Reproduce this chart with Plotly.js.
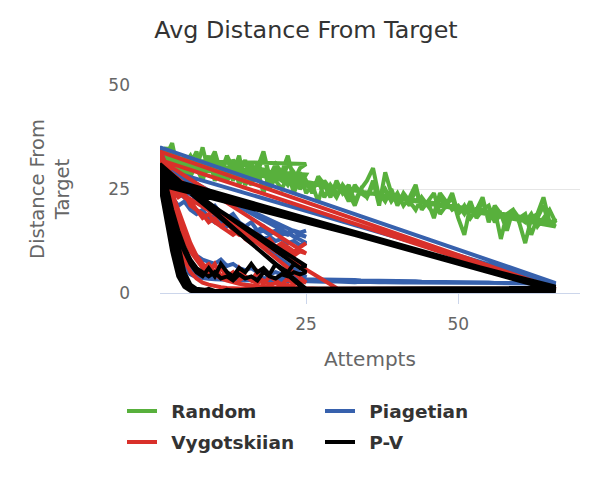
<!DOCTYPE html>
<html>
<head>
<meta charset="utf-8">
<script src="https://cdn.plot.ly/plotly-3.0.1.min.js"></script>
<style>
  html, body { margin: 0; padding: 0; background: #fff; }
  #chart { width: 610px; height: 490px; }
</style>
</head>
<body>
<div id="chart"></div>
<script>
  // each run is one game; the attempt number is the position in the run (1, 2, 3 ...)
  // runs are joined one after another, so a line jumps back to attempt 1 between runs

  // Random
  var random1 = [33, 31, 35, 30, 32, 28, 31, 29, 33, 27,
                 30, 28, 32, 26, 29, 31, 27, 30, 25, 28,
                 27, 29, 24, 28, 26, 25, 27, 23, 26, 24,
                 25, 22, 26, 24, 23, 27, 21, 29, 24, 22,
                 23, 21, 25, 20, 22, 24, 19, 21, 23, 18,
                 14, 21, 19, 22, 18, 20, 13, 19, 20, 17,
                 12, 18, 19, 23, 17, 16];
  var random2 = [33, 30, 34, 31, 28, 32, 30, 35, 29, 31,
                 27, 33, 30, 28, 32, 26, 30, 34, 28, 31,
                 29, 33, 27, 30, 31];
  var random3 = [32, 34, 30, 33, 29, 31, 34, 28, 30, 32,
                 29, 33, 27, 30, 28, 26, 31, 29, 27, 30,
                 28, 26, 29, 25, 27, 24, 28, 26, 23, 27,
                 24, 26, 22, 25, 23, 26, 24, 22, 25, 21,
                 24, 22, 20, 23, 21, 19, 24, 22, 20, 21,
                 19, 22, 18, 20, 21, 17, 19, 16, 20, 18,
                 17, 19, 16, 18, 20, 17];
  var random4 = [32, 35, 31, 29, 33, 30, 32, 28, 31, 34,
                 29, 27, 32, 30, 26, 31, 29, 33, 28, 30,
                 27, 31, 29, 26, 28.5];
  var random5 = [31, 33, 36, 29, 31, 33, 30, 27, 32, 29,
                 31, 27, 29, 33, 26, 28, 30, 24, 29, 27,
                 25, 28, 26, 29, 24, 26, 22, 27, 25, 23,
                 26, 24, 21, 25, 27, 30, 23, 25, 22, 24,
                 21, 23, 26, 20, 22, 18, 23, 21, 24, 19,
                 21, 18, 20, 23, 17, 21, 19, 15, 20, 18,
                 19, 14, 18, 21, 16, 18];

  // Piagetian
  var piaget1 = [32, 25, 17, 10, 6, 4.5, 3.8, 3.5, 3.4, 3.3,
                 3.2, 3.3, 3.1, 3.2, 3.0, 3.1, 3.0, 3.0, 2.9, 3.0,
                 2.9, 2.9, 2.8, 2.9, 2.8, 2.8, 2.8, 2.7, 2.8, 2.7,
                 2.7, 2.7, 2.6, 2.7, 2.6, 2.6, 2.6, 2.6, 2.5, 2.6,
                 2.5, 2.5, 2.5, 2.5, 2.5, 2.4, 2.5, 2.4, 2.4, 2.4,
                 2.4, 2.4, 2.4, 2.3, 2.4, 2.3, 2.3, 2.3, 2.3, 2.3,
                 2.3, 2.3, 2.3, 2.3, 2.3, 2.4];
  var piaget2 = [35, 30, 27, 24, 23, 21, 20, 19, 18, 18.5,
                 17, 16, 16.5, 15, 15.5, 14, 14.5, 13, 13.5, 12.5,
                 13, 12, 12.5, 11.5, 12];
  var piaget3 = [31, 26, 20, 14, 9, 6, 4.8, 4.2, 4.0, 3.9,
                 3.9, 3.8, 3.8, 3.7, 3.7, 3.6, 3.6, 3.6, 3.5, 3.5,
                 3.5, 3.4, 3.4, 3.4, 3.3, 3.3, 3.3, 3.2, 3.2, 3.2,
                 3.1, 3.1, 3.1, 3.0, 3.0, 3.0, 2.9, 2.9, 2.9, 2.8,
                 2.8, 2.8, 2.8, 2.7, 2.7, 2.7, 2.7, 2.6, 2.6, 2.6,
                 2.6, 2.5, 2.5, 2.5, 2.5, 2.4, 2.4, 2.4, 2.4, 2.3,
                 2.3, 2.3, 2.3, 2.2, 2.2, 2.2];
  var piaget4 = [30, 28, 26, 25, 24, 22, 23, 21, 20, 21,
                 19, 18, 19, 17, 16, 17, 15, 16, 14.5, 15,
                 14, 14.5, 13.5, 14, 13.5];
  var piaget5 = [30, 25, 20, 16, 13, 11, 9, 8, 7.5, 7,
                 8, 6.5, 7, 6, 5.5, 6, 5, 5.5, 4.5, 5,
                 4.5, 4, 4.5, 4, 3.8];
  var piaget6 = [29, 26, 23, 21, 22, 20, 19, 20, 18, 17,
                 18, 16, 17, 15.5, 16, 15, 14.5, 15, 14, 15,
                 14.5, 14, 15, 14.5, 15];

  // Vygotskiian
  var vygot1 = [33, 29, 24, 20, 16, 12, 9, 7, 5.5, 4.5,
                3.5, 3, 2.5, 2.2, 2, 1.8, 1.6, 1.5, 1.4, 1.3,
                1.3, 1.2, 1.2, 1.1, 1.1, 1.1, 1.0, 1.0, 1.0, 1.0,
                1.0, 1.0, 0.9, 0.9, 0.9, 0.9, 0.9, 0.9, 0.9, 0.9,
                0.9, 0.9, 0.9, 0.9, 0.9, 0.9, 0.9, 0.9, 0.9, 0.9,
                0.9, 0.9, 0.9, 0.9, 0.9, 0.9, 0.9, 0.9, 0.9, 0.9,
                0.9, 0.9, 0.9, 0.9, 0.9, 1.0];
  var vygot2 = [34, 31, 28, 26, 23, 22, 20, 19, 17, 18,
                16, 15, 14, 15, 13, 12, 13, 11, 12, 10,
                11, 10, 9, 10, 9.5];
  var vygot3 = [32, 27, 22, 17, 13, 10, 8, 6, 7, 5,
                6, 4, 5, 3, 4, 3, 2.5, 3, 2, 2.5,
                1.5, 2, 1, 1.5, 1, 0.8, 1, 0.5, 0.6, 0.4,
                0.3];
  var vygot4 = [27, 22, 17, 12, 8, 5, 3.5, 2.5, 2, 1.6,
                1.4, 1.2, 1.1, 1.0, 0.9, 0.9, 0.8, 0.8, 0.8, 0.7,
                0.7, 0.7, 0.7, 0.7, 0.7, 0.7, 0.7, 0.7, 0.7, 0.7,
                0.7, 0.7, 0.7, 0.7, 0.7, 0.7, 0.7, 0.7, 0.7, 0.7,
                0.7, 0.7, 0.7, 0.7, 0.7, 0.7, 0.7, 0.7, 0.7, 0.7,
                0.7, 0.7, 0.7, 0.7, 0.7, 0.7, 0.7, 0.7, 0.7, 0.7,
                0.7, 0.7, 0.7, 0.8, 0.8, 0.8];
  var vygot5 = [32, 28, 23, 19, 15, 11, 8, 6, 5, 7,
                4, 5, 3, 6, 4, 3, 5, 2, 4, 3,
                2, 3.5, 2, 3, 2.5];
  var vygot6 = [31, 28, 25, 23, 24, 21, 20, 18, 19, 17,
                16, 17, 15, 14, 15, 13, 14, 12, 13, 11,
                12, 11, 10, 11, 12];

  // P-V
  var pv1 = [31, 26, 20, 15, 11, 8, 6, 5, 4, 5,
             3.5, 4, 3, 4.5, 3.5, 4, 3, 5, 4, 3.5,
             4.5, 4, 5, 4.5, 5];
  var pv2 = [30, 22, 14, 7, 3, 1.5, 1, 0.6, 0.5, 0.4,
             0.4, 0.3, 0.3, 0.3, 0.3, 0.3, 0.3, 0.3, 0.3, 0.3,
             0.3, 0.3, 0.3, 0.3, 0.3, 0.3, 0.3, 0.3, 0.3, 0.3,
             0.3, 0.3, 0.3, 0.3, 0.3, 0.3, 0.3, 0.3, 0.3, 0.3,
             0.3, 0.3, 0.3, 0.3, 0.3, 0.3, 0.3, 0.3, 0.3, 0.3,
             0.3, 0.3, 0.3, 0.3, 0.3, 0.3, 0.3, 0.3, 0.3, 0.3,
             0.3, 0.4, 0.5, 0.6, 0.8, 1.0];
  var pv3 = [28, 24, 19, 14, 10, 7, 5, 4, 6, 4,
             7, 5, 4, 6, 5, 7, 5, 6, 4.5, 7,
             6, 5, 7, 6, 6.5];
  var pv4 = [29, 21, 13, 6, 2.5, 1, 0.5, 0.3, 0.2, 0.2,
             0.2, 0.2, 0.2, 0.2, 0.2, 0.2, 0.2, 0.2, 0.2, 0.2,
             0.2, 0.2, 0.2, 0.2, 0.2, 0.2, 0.2, 0.2, 0.2, 0.2,
             0.2, 0.2, 0.2, 0.2, 0.2, 0.2, 0.2, 0.2, 0.2, 0.2,
             0.2, 0.2, 0.2, 0.2, 0.2, 0.2, 0.2, 0.2, 0.2, 0.2,
             0.2, 0.2, 0.2, 0.2, 0.2, 0.2, 0.2, 0.2, 0.2, 0.2,
             0.2, 0.2, 0.3, 0.3, 0.4, 0.5];
  var pv5 = [27, 20, 12, 6, 2, 1, 0.6, 0.5, 1, 0.5,
             0.4, 0.8, 0.5, 0.4, 0.6, 0.5, 0.4, 0.5, 0.4, 0.5,
             0.6, 0.4, 0.5, 0.6, 1];
  var pv6 = [30, 23, 16, 9, 4, 2, 1, 0.8, 0.6, 0.5,
             0.5, 0.6, 0.7, 0.8, 0.9, 1.0, 1.0, 1.0, 1.0, 1.0,
             1.0, 1.0, 1.0, 1.0, 1.0, 1.0, 1.0, 1.0, 1.0, 1.0,
             1.0, 1.0, 1.0, 1.0, 1.0, 1.0, 1.0, 1.0, 1.0, 1.0,
             1.0, 1.0, 1.0, 1.0, 1.0, 1.0, 1.0, 1.0, 1.0, 1.0,
             1.0, 1.0, 1.0, 1.0, 1.0, 1.0, 1.0, 1.0, 1.0, 1.0,
             1.1, 1.1, 1.2, 1.3, 1.4, 1.5];
  var pv7 = [26, 18, 10, 4, 1.5, 0.5, 0.3, 0.2, 0.2, 0.3,
             0.2, 0.2, 0.3, 0.2, 0.2, 0.2, 0.3, 0.2, 0.2, 0.2,
             0.2, 0.3, 0.2, 0.2, 0.5];
  var pv8 = [31, 25, 18, 11, 5, 2, 1, 0.6, 0.5, 0.4,
             0.4, 0.4, 0.4, 0.4, 0.4, 0.4, 0.4, 0.4, 0.4, 0.4,
             0.4, 0.4, 0.4, 0.4, 0.4, 0.4, 0.4, 0.4, 0.4, 0.4,
             0.4, 0.4, 0.4, 0.4, 0.4, 0.4, 0.4, 0.4, 0.4, 0.4,
             0.4, 0.4, 0.4, 0.4, 0.4, 0.4, 0.4, 0.4, 0.4, 0.4,
             0.4, 0.4, 0.4, 0.4, 0.4, 0.4, 0.4, 0.4, 0.4, 0.4,
             0.4, 0.5, 0.6, 0.7, 0.8, 1.0];

  var randomRuns = [random1, random2, random3, random4, random5];
  var piagetRuns = [piaget1, piaget2, piaget3, piaget4, piaget5, piaget6];
  var vygotRuns = [vygot1, vygot2, vygot3, vygot4, vygot5, vygot6];
  var pvRuns = [pv1, pv2, pv3, pv4, pv5, pv6, pv7, pv8];

  function joinRuns(runs) {
    var x = [], y = [];
    runs.forEach(function (run) {
      run.forEach(function (v, i) {
        x.push(i + 1);
        y.push(v);
      });
    });
    return { x: x, y: y };
  }

  // the en space only widens the gap between legend line and label
  function series(name, runs, color, legend) {
    var xy = joinRuns(runs);
    return {
      x: xy.x,
      y: xy.y,
      name: '\u2002' + name,
      mode: 'lines',
      type: 'scatter',
      legend: legend,
      line: { color: color, width: 4 },
      hoverinfo: 'skip'
    };
  }

  var data = [
    series('Random', randomRuns, '#58b03c', 'legend'),
    series('Piagetian', piagetRuns, '#3761ad', 'legend'),
    series('Vygotskiian', vygotRuns, '#d9302a', 'legend2'),
    series('P-V', pvRuns, '#000000', 'legend2')
  ];

  var legendFont = { family: 'DejaVu Sans', size: 18.5, color: '#333333', weight: 'bold' };

  var layout = {
    width: 610,
    height: 490,
    margin: { l: 160, r: 30, t: 85, b: 197 },
    paper_bgcolor: '#ffffff',
    plot_bgcolor: '#ffffff',
    font: { family: 'DejaVu Sans', color: '#666666' },
    showlegend: true,
    hovermode: false,
    title: {
      text: 'Avg Distance From Target',
      font: { family: 'DejaVu Sans', size: 23.8, color: '#333333' },
      xref: 'container', x: 306 / 610, xanchor: 'center',
      yref: 'container', y: 1 - 30 / 490, yanchor: 'middle'
    },
    xaxis: {
      range: [1, 70],
      tickvals: [25, 50],
      ticks: 'outside',
      ticklen: 10,
      tickcolor: '#ccd6eb',
      showline: true,
      linecolor: '#ccd6eb',
      linewidth: 1,
      showgrid: false,
      zeroline: false,
      tickfont: { size: 17, color: '#666666' },
      ticklabelstandoff: 6,
      title: { text: 'Attempts', font: { size: 20, color: '#666666' }, standoff: 18 }
    },
    yaxis: {
      range: [0, 50],
      tickvals: [0, 25, 50],
      showgrid: true,
      gridcolor: '#e6e6e6',
      gridwidth: 1,
      zeroline: false,
      showline: false,
      ticks: '',
      tickfont: { size: 17, color: '#666666' },
      ticklabelstandoff: 29,
      title: { text: 'Distance From<br>Target', font: { size: 19.5, color: '#666666' }, standoff: 33 }
    },
    legend: {
      orientation: 'h',
      xref: 'container', yref: 'container',
      x: 122 / 610, xanchor: 'left',
      y: 1 - 411.5 / 490, yanchor: 'middle',
      entrywidth: 153,
      font: legendFont,
      bgcolor: 'rgba(0,0,0,0)'
    },
    legend2: {
      orientation: 'h',
      xref: 'container', yref: 'container',
      x: 122 / 610, xanchor: 'left',
      y: 1 - 442.5 / 490, yanchor: 'middle',
      entrywidth: 153,
      font: legendFont,
      bgcolor: 'rgba(0,0,0,0)'
    }
  };

  Plotly.newPlot('chart', data, layout, { displayModeBar: false, staticPlot: true });
</script>
</body>
</html>
